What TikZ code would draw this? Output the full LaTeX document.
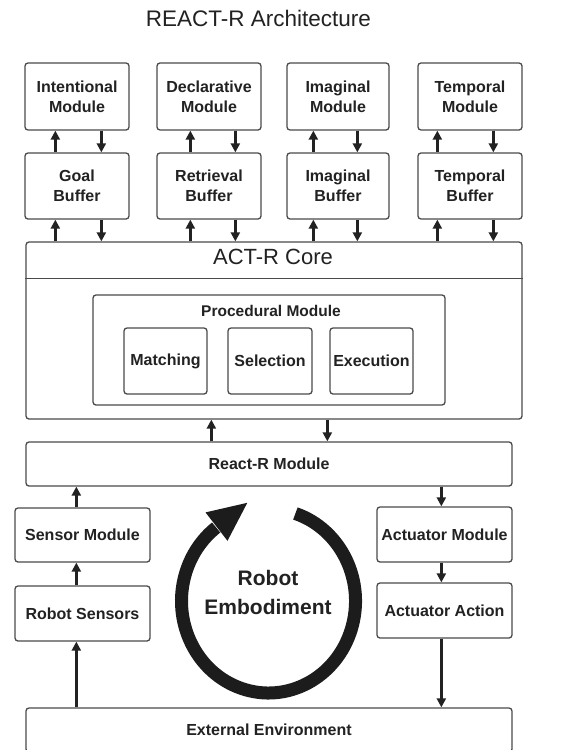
\documentclass[tikz,border=0pt]{standalone}
\usepackage{fontspec}
\setmainfont{Liberation Sans}
\usetikzlibrary{arrows.meta}
\definecolor{bord}{HTML}{4A4A4A}
\definecolor{ink}{HTML}{222222}
\definecolor{ringcol}{HTML}{1C1C1C}
\begin{document}
\begin{tikzpicture}[x=1pt,y=-1pt,
  box/.style={draw=bord, line width=1.3pt, rounded corners=3pt, fill=white, text=ink,
    font=\bfseries\fontsize{16}{20}\selectfont, align=center, inner sep=0pt},
  modbox/.style={box, minimum width=104pt, minimum height=67pt},
  bufbox/.style={box, minimum width=104pt, minimum height=66pt},
  subbox/.style={box, minimum width=83pt, minimum height=66pt},
  sidebox/.style={box, minimum width=135pt, minimum height=55pt},
  widebox/.style={box, minimum width=486pt, minimum height=44pt},
  arr/.style={draw=ink, line width=2.4pt, -{Triangle[length=9pt,width=9pt]}},
  plain/.style={text=ink, inner sep=0pt}]
\clip (0,0) rectangle (563,750);
\fill[white] (0,0) rectangle (563,750);

% title
\node[plain, font=\fontsize{22.5}{26}\selectfont] (title) at (258.5,18) {REACT-R Architecture};

% modules
\node[modbox] (intent) at (77,96.5) {Intentional\\Module};
\node[modbox] (decl) at (209,96.5) {Declarative\\Module};
\node[modbox, minimum width=102pt] (imagm) at (338,96.5) {Imaginal\\Module};
\node[modbox] (tempm) at (470,96.5) {Temporal\\Module};

% buffers
\node[bufbox] (goal) at (77,186) {Goal\\Buffer};
\node[bufbox] (retr) at (209,186) {Retrieval\\Buffer};
\node[bufbox, minimum width=102pt] (imagb) at (338,186) {Imaginal\\Buffer};
\node[bufbox] (tempb) at (470,186) {Temporal\\Buffer};

% core
\node[box, minimum width=496pt, minimum height=177pt] (core) at (274,330.5) {};
\draw[draw=bord, line width=1.3pt] ([yshift=-37pt]core.north west) -- ([yshift=-37pt]core.north east);
\node[plain, font=\fontsize{22}{26}\selectfont] (coretitle) at (273,257) {ACT-R Core};

% procedural
\node[box, minimum width=352pt, minimum height=110pt] (proc) at (269,350) {};
\node[plain, font=\bfseries\fontsize{15.5}{19}\selectfont] (proctitle) at (271,311) {Procedural Module};
\node[subbox] (match) at (165.5,361) {Matching};
\node[subbox, minimum width=84pt] (sel) at (270,361) {Selection};
\node[subbox] (exec) at (371.5,361) {Execution};

% react-r
\node[widebox] (react) at (269,464) {React-R Module};

% side columns
\node[sidebox, minimum height=54pt] (sensmod) at (82.5,535) {Sensor Module};
\node[sidebox] (robsens) at (82.5,613.5) {Robot Sensors};
\node[sidebox] (actmod) at (444.5,534.5) {Actuator Module};
\node[sidebox] (actact) at (444.5,610.5) {Actuator Action};

% environment
\node[widebox] (env) at (269,730) {External Environment};

% module <-> buffer arrows
\draw[arr] ([xshift=31pt]goal.north west) -- ([xshift=31pt]intent.south west);
\draw[arr] ([xshift=77pt]intent.south west) -- ([xshift=77pt]goal.north west);
\draw[arr] ([xshift=34pt]retr.north west) -- ([xshift=34pt]decl.south west);
\draw[arr] ([xshift=79pt]decl.south west) -- ([xshift=79pt]retr.north west);
\draw[arr] ([xshift=27pt]imagb.north west) -- ([xshift=27pt]imagm.south west);
\draw[arr] ([xshift=71pt]imagm.south west) -- ([xshift=71pt]imagb.north west);
\draw[arr] ([xshift=20pt]tempb.north west) -- ([xshift=20pt]tempm.south west);
\draw[arr] ([xshift=76pt]tempm.south west) -- ([xshift=76pt]tempb.north west);

% buffer <-> core arrows
\draw[arr] ([xshift=31pt]goal.south west |- core.north) -- ([xshift=31pt]goal.south west);
\draw[arr] ([xshift=77pt]goal.south west) -- ([xshift=77pt]goal.south west |- core.north);
\draw[arr] ([xshift=34pt]retr.south west |- core.north) -- ([xshift=34pt]retr.south west);
\draw[arr] ([xshift=79pt]retr.south west) -- ([xshift=79pt]retr.south west |- core.north);
\draw[arr] ([xshift=27pt]imagb.south west |- core.north) -- ([xshift=27pt]imagb.south west);
\draw[arr] ([xshift=71pt]imagb.south west) -- ([xshift=71pt]imagb.south west |- core.north);
\draw[arr] ([xshift=20pt]tempb.south west |- core.north) -- ([xshift=20pt]tempb.south west);
\draw[arr] ([xshift=76pt]tempb.south west) -- ([xshift=76pt]tempb.south west |- core.north);

% core <-> react
\draw[arr] ([xshift=186pt]react.north west) -- ([xshift=186pt]react.north west |- core.south);
\draw[arr] ([xshift=302pt]react.north west |- core.south) -- ([xshift=302pt]react.north west);

% sensor column
\draw[arr] ([xshift=62pt]sensmod.north west) -- ([xshift=62pt]sensmod.north west |- react.south);
\draw[arr] ([xshift=62pt]robsens.north west) -- ([xshift=62pt]sensmod.south west);
\draw[arr] ([xshift=62pt]robsens.south west |- env.north) -- ([xshift=62pt]robsens.south west);

% actuator column
\draw[arr] ([xshift=65pt]actmod.north west |- react.south) -- ([xshift=65pt]actmod.north west);
\draw[arr] ([xshift=65pt]actmod.south west) -- ([xshift=65pt]actact.north west);
\draw[arr] ([xshift=65pt]actact.south west) -- ([xshift=65pt]actact.south west |- env.north);

% robot embodiment cycle
\coordinate (ringc) at (268.5,601);
\draw[draw=ringcol, line width=13pt] (295.4,513.5) arc[start angle=72, end angle=-233, x radius=87pt, y radius=92pt];
\fill[ringcol] (247.3,502.8) -- (205.5,512.4) -- (227.5,540.8) -- cycle;
\node[plain, font=\bfseries\fontsize{21}{29}\selectfont, align=center] (embod) at (268,592) {Robot\\Embodiment};
\end{tikzpicture}
\end{document}
